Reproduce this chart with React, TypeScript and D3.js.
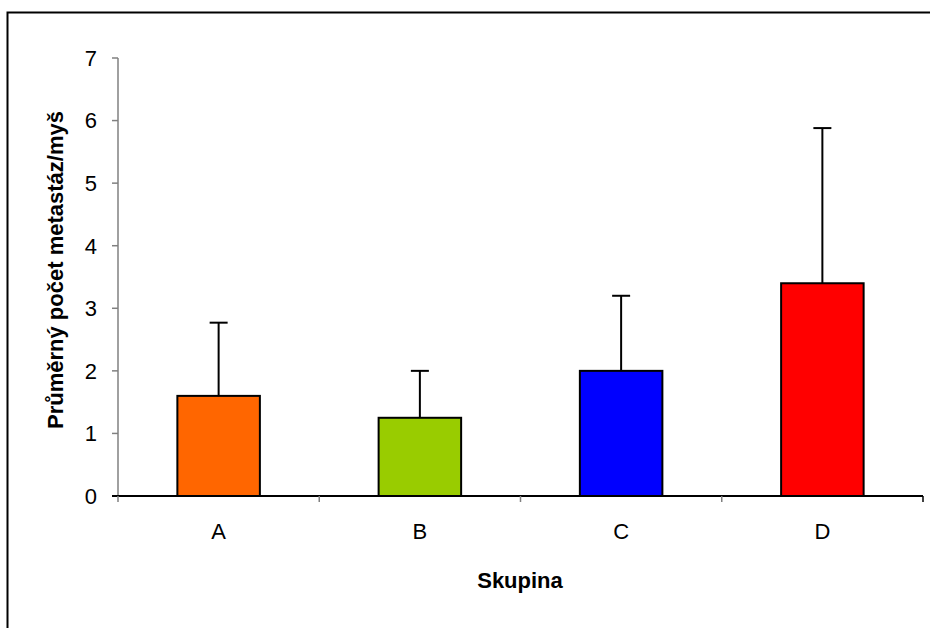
import React from "react";
import * as d3 from "d3";

const categories = ["A", "B", "C", "D"];
const means = [1.6, 1.25, 2.0, 3.4];
const errors = [1.17, 0.75, 1.2, 2.48];
const colors = ["#FF6600", "#99CC00", "#0000FF", "#FF0000"];
const yTicks = [0, 1, 2, 3, 4, 5, 6, 7];
const yTitle = "Průměrný počet metastáz/myš";
const xTitle = "Skupina";

export default function App() {
  const W = 930, H = 628;
  const left = 118, right = 923, top = 58, bottom = 496;
  const x = d3.scaleBand<string>().domain(categories).range([left, right]).paddingInner(0.59).paddingOuter(0.295);
  const xb = d3.scaleBand<string>().domain(categories).range([left, right]);
  const y = d3.scaleLinear().domain([0, 7]).range([bottom, top]);
  const font = "'Liberation Sans', Arial, sans-serif";
  return (
    <svg width={W} height={H} style={{ position: "absolute", left: 0, top: 0, background: "#fff" }} fontFamily={font}>
      <rect x={7.5} y={12.5} width={W} height={H} fill="none" stroke="#000" strokeWidth={2} />
      {/* y axis */}
      <line x1={left} x2={left} y1={top} y2={bottom} stroke="#808080" strokeWidth={1.5} />
      {yTicks.map((t) => (
        <g key={t}>
          <line x1={left - 6} x2={left} y1={y(t)} y2={y(t)} stroke="#808080" strokeWidth={1.5} />
          <text x={97} y={y(t)} dy="0.36em" textAnchor="end" fontSize={22}>{t}</text>
        </g>
      ))}
      {/* bars */}
      {categories.map((c, i) => {
        const bx = x(c)!;
        const bw = x.bandwidth();
        const cx = bx + bw / 2;
        const yt = y(means[i] + errors[i]);
        return (
          <g key={c}>
            <line x1={cx} x2={cx} y1={y(means[i])} y2={yt} stroke="#000" strokeWidth={2} />
            <line x1={cx - 9} x2={cx + 9} y1={yt} y2={yt} stroke="#000" strokeWidth={2} />
            <rect x={bx} y={y(means[i])} width={bw} height={bottom - y(means[i])} fill={colors[i]} stroke="#000" strokeWidth={2} />
          </g>
        );
      })}
      {/* x axis */}
      <line x1={left - 6} x2={right} y1={bottom} y2={bottom} stroke="#000" strokeWidth={2} />
      {categories.map((c) => (
        <line key={"t" + c} x1={xb(c)!} x2={xb(c)!} y1={bottom} y2={bottom + 6} stroke="#808080" strokeWidth={1.5} />
      ))}
      <line x1={right} x2={right} y1={bottom} y2={bottom + 6} stroke="#000" strokeWidth={1.5} />
      {categories.map((c) => (
        <text key={"l" + c} x={xb(c)! + xb.bandwidth() / 2} y={539} textAnchor="middle" fontSize={22}>{c}</text>
      ))}
      <text x={520} y={588} textAnchor="middle" fontSize={22} fontWeight="bold">{xTitle}</text>
      <text transform={`translate(63,270) rotate(-90)`} textAnchor="middle" fontSize={22} fontWeight="bold">{yTitle}</text>
    </svg>
  );
}
